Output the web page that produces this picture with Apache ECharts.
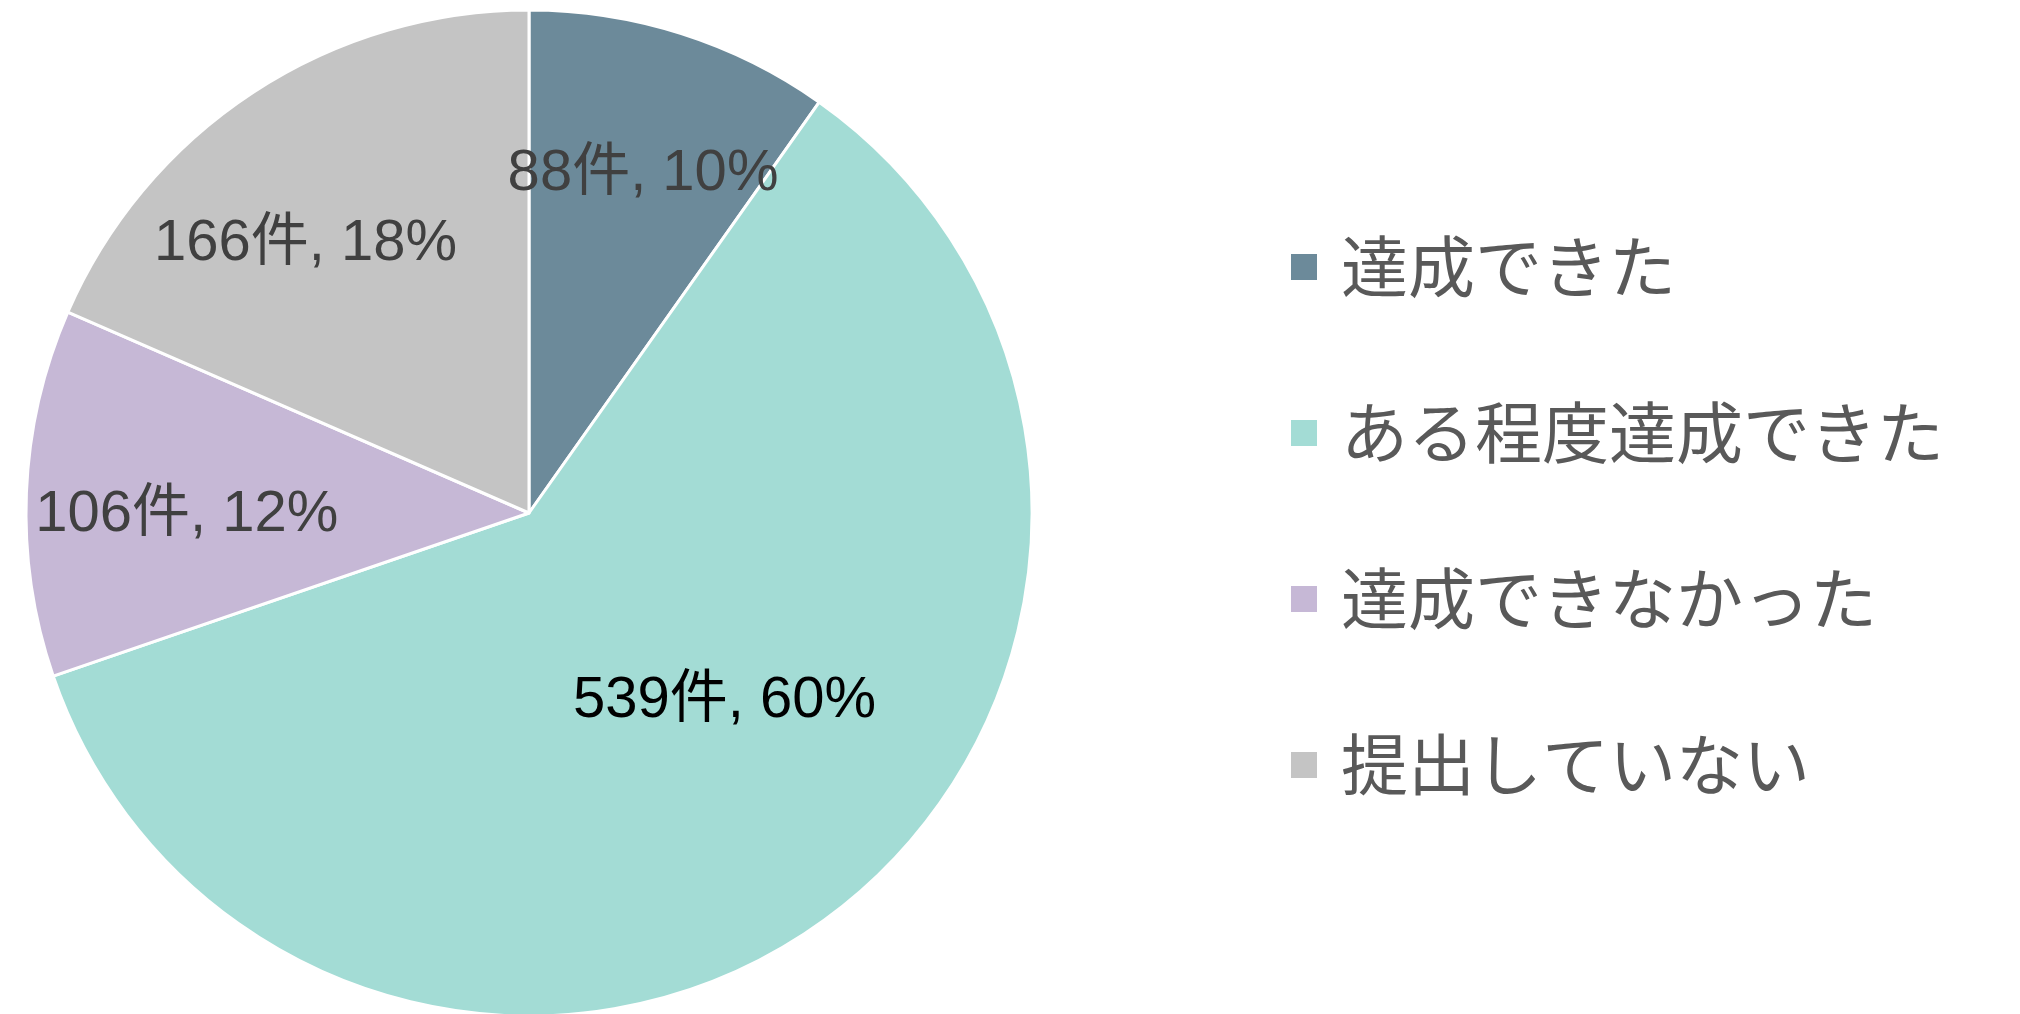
<!DOCTYPE html>
<html>
<head>
<meta charset="utf-8">
<script src="https://cdn.jsdelivr.net/npm/echarts@6/dist/echarts.min.js"></script>
<style>
html,body{margin:0;padding:0;background:#fff;}
#main{width:2020px;height:1014px;}
</style>
</head>
<body>
<div id="main"></div>
<script>
// 目標の達成状況
var categories = ['達成できた', 'ある程度達成できた', '達成できなかった', '提出していない'];
var counts = [88, 539, 106, 166];
var percents = [10, 60, 12, 18];

var colors = ['#6C8A9A', '#A3DCD5', '#C6B8D6', '#C4C4C4'];
var labelColors = ['#404040', '#000000', '#404040', '#404040'];
// ラベル位置の微調整（Excel風の配置に寄せる）
var labelShift = [[37, -96], [43, -16], [-88, 12], [-84, -56]];

var chart = echarts.init(document.getElementById('main'));

var pieData = [];
for (var i = 0; i < categories.length; i++) {
	pieData.push({
		name: categories[i],
		value: counts[i],
		itemStyle: { color: colors[i] },
		label: { color: labelColors[i], offset: labelShift[i] }
	});
}

var option = {
	animation: false,
	backgroundColor: '#ffffff',
	legend: {
		orient: 'vertical',
		left: 1284,
		top: 222,
		itemWidth: 28,
		itemHeight: 28,
		itemGap: 86,
		icon: 'rect',
		data: categories,
		textStyle: {
			fontFamily: "'Noto Sans CJK JP', sans-serif",
			fontSize: 67,
			lineHeight: 80,
			color: '#595959',
			padding: [0, 0, 0, 18]
		}
	},
	series: [{
		type: 'pie',
		center: [529, 513],
		radius: [0, 503],
		startAngle: 90,
		clockwise: true,
		silent: true,
		itemStyle: { borderColor: '#ffffff', borderWidth: 3 },
		label: {
			show: true,
			position: 'inside',
			fontFamily: "'Liberation Sans', 'Noto Sans CJK JP', sans-serif",
			fontSize: 58,
			formatter: function (p) {
				return counts[p.dataIndex] + '件, ' + percents[p.dataIndex] + '%';
			}
		},
		labelLine: { show: false },
		data: pieData
	}]
};

chart.setOption(option);
</script>
</body>
</html>
